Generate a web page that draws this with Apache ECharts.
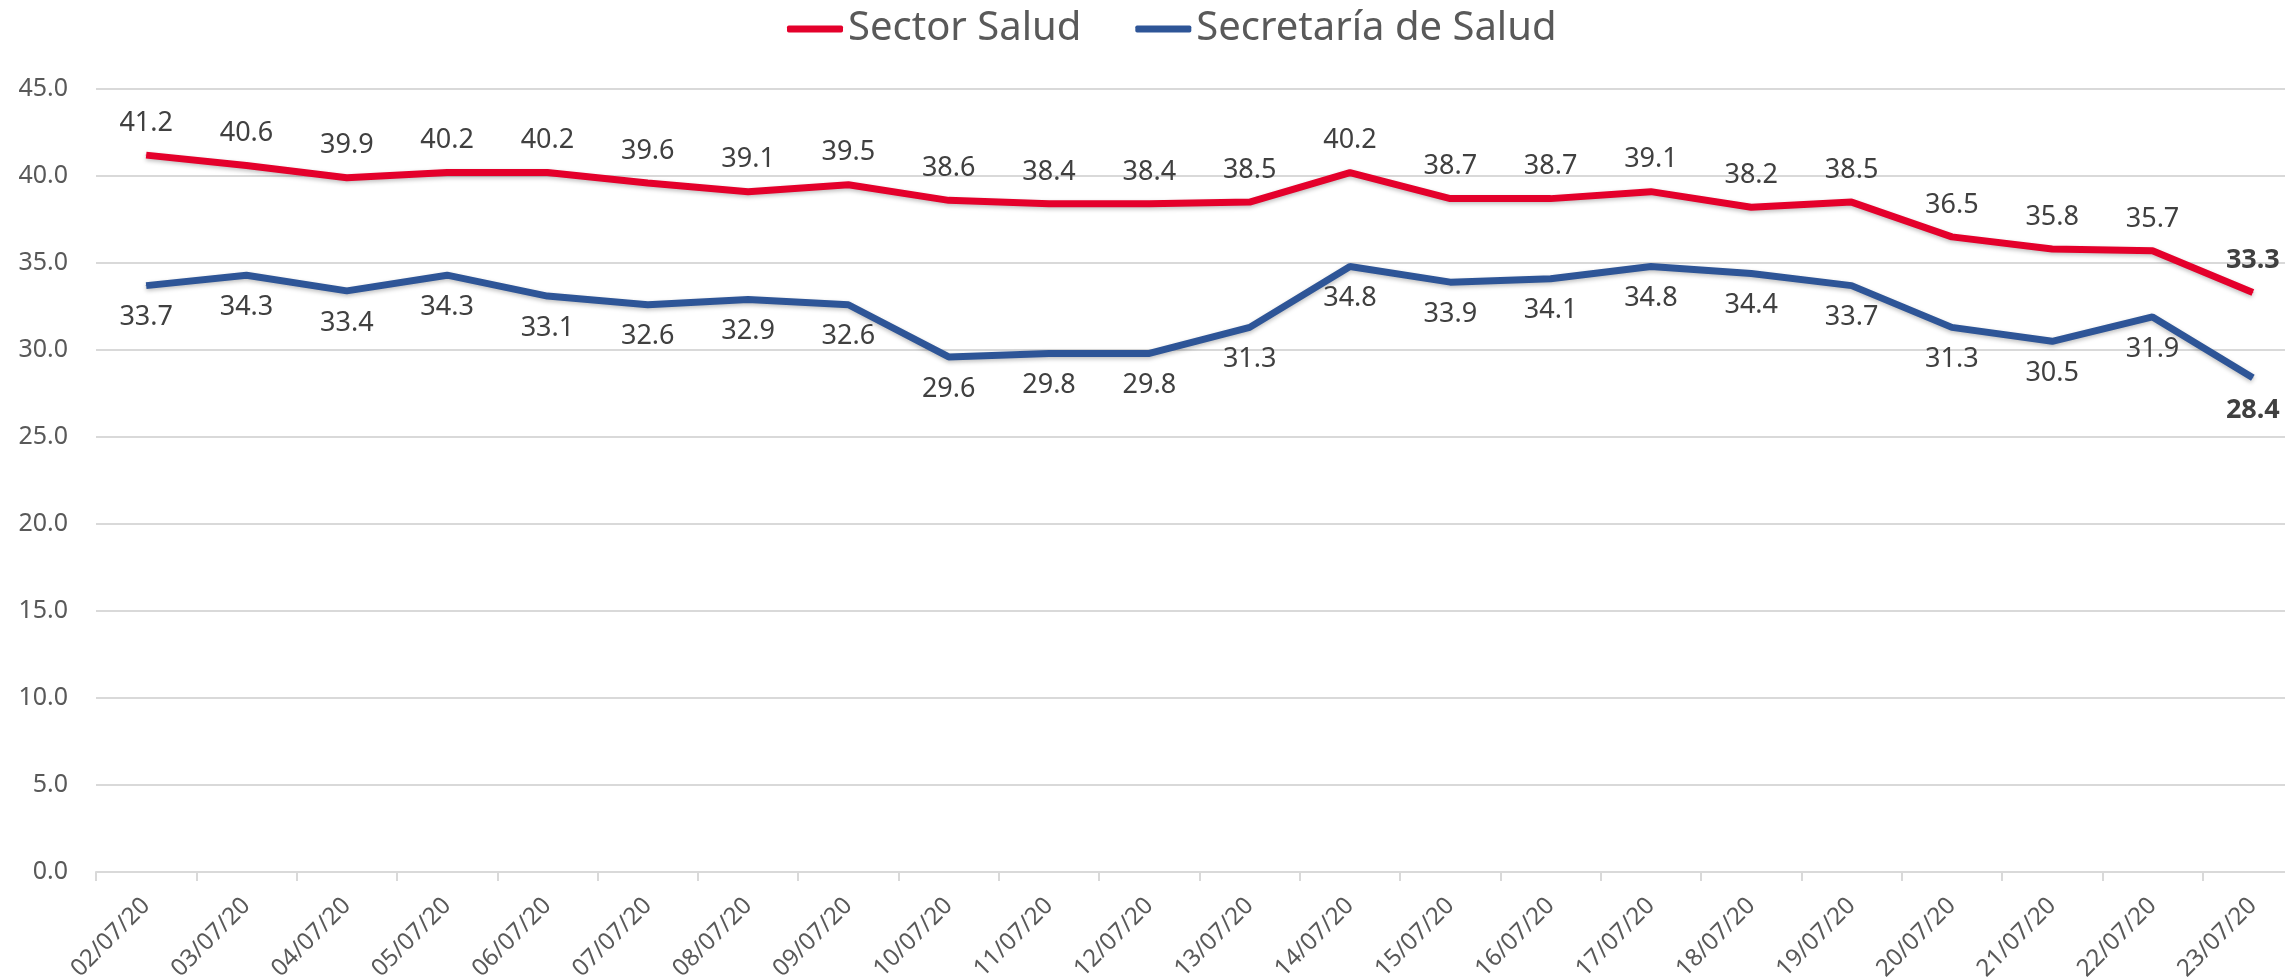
<!DOCTYPE html>
<html>
<head>
<meta charset="utf-8">
<script src="https://cdn.jsdelivr.net/npm/echarts@6/dist/echarts.min.js"></script>
<style>
  html, body { margin: 0; padding: 0; background: #fff; }
  #chart { width: 2285px; height: 977px; }
</style>
</head>
<body>
<div id="chart"></div>
<script>
const dates = ['02/07/20', '03/07/20', '04/07/20', '05/07/20', '06/07/20', '07/07/20', '08/07/20',
  '09/07/20', '10/07/20', '11/07/20', '12/07/20', '13/07/20', '14/07/20', '15/07/20', '16/07/20',
  '17/07/20', '18/07/20', '19/07/20', '20/07/20', '21/07/20', '22/07/20', '23/07/20'];
const sectorSalud = [41.2, 40.6, 39.9, 40.2, 40.2, 39.6, 39.1, 39.5, 38.6, 38.4, 38.4, 38.5, 40.2,
  38.7, 38.7, 39.1, 38.2, 38.5, 36.5, 35.8, 35.7, 33.3];
const secretariaSalud = [33.7, 34.3, 33.4, 34.3, 33.1, 32.6, 32.9, 32.6, 29.6, 29.8, 29.8, 31.3, 34.8,
  33.9, 34.1, 34.8, 34.4, 33.7, 31.3, 30.5, 31.9, 28.4];

const font = 'Noto Sans';
const red = '#E4002B';
const blue = '#2E5597';

// last point gets a bold label
const withBoldLast = (values) => values.map((v, i) => {
  if (i === values.length - 1) {
    return { value: v, label: { fontWeight: 'bold', color: '#404040' } };
  }
  return v;
});

const chart = echarts.init(document.getElementById('chart'));
const option = {
  animation: false,
  textStyle: { fontFamily: font },
  legend: {
    top: 4,
    left: 782,
    icon: 'roundRect',
    itemWidth: 56,
    itemHeight: 7,
    itemGap: 54,
    textStyle: { fontSize: 40, color: '#595959', fontFamily: font },
    data: ['Sector Salud', 'Secretaría de Salud'],
  },
  grid: {
    left: 96,
    right: -18,
    top: 89,
    bottom: 105,
    containLabel: false,
    outerBoundsMode: 'none',
  },
  xAxis: {
    type: 'category',
    data: dates,
    boundaryGap: true,
    axisLine: { lineStyle: { color: '#D9D9D9', width: 2 } },
    axisTick: { show: true, length: 9, lineStyle: { color: '#D9D9D9', width: 2 } },
    axisLabel: {
      rotate: 45,
      margin: 30,
      color: '#595959',
      fontSize: 24,
      fontFamily: font,
    },
  },
  yAxis: {
    type: 'value',
    min: 0,
    max: 45,
    interval: 5,
    axisLine: { show: false },
    axisTick: { show: false },
    axisLabel: {
      color: '#595959',
      fontSize: 25,
      margin: 28,
      fontFamily: font,
      formatter: (v) => v.toFixed(1),
    },
    splitLine: { lineStyle: { color: '#D9D9D9', width: 2 } },
  },
  series: [
    {
      name: 'Sector Salud',
      type: 'line',
      data: withBoldLast(sectorSalud),
      color: red,
      symbol: 'circle',
      symbolSize: 1,
      lineStyle: { color: red, width: 7, shadowColor: 'rgba(0,0,0,0.25)', shadowBlur: 4, shadowOffsetY: 2 },
      label: {
        show: true,
        position: 'top',
        distance: 18,
        fontSize: 27,
        color: '#404040',
        fontFamily: font,
        formatter: (p) => p.value.toFixed(1),
      },
    },
    {
      name: 'Secretaría de Salud',
      type: 'line',
      data: withBoldLast(secretariaSalud),
      color: blue,
      symbol: 'circle',
      symbolSize: 1,
      lineStyle: { color: blue, width: 7, shadowColor: 'rgba(0,0,0,0.25)', shadowBlur: 4, shadowOffsetY: 2 },
      label: {
        show: true,
        position: 'bottom',
        distance: 18,
        fontSize: 27,
        color: '#404040',
        fontFamily: font,
        formatter: (p) => p.value.toFixed(1),
      },
    },
  ],
};

chart.setOption(option);
</script>
</body>
</html>
